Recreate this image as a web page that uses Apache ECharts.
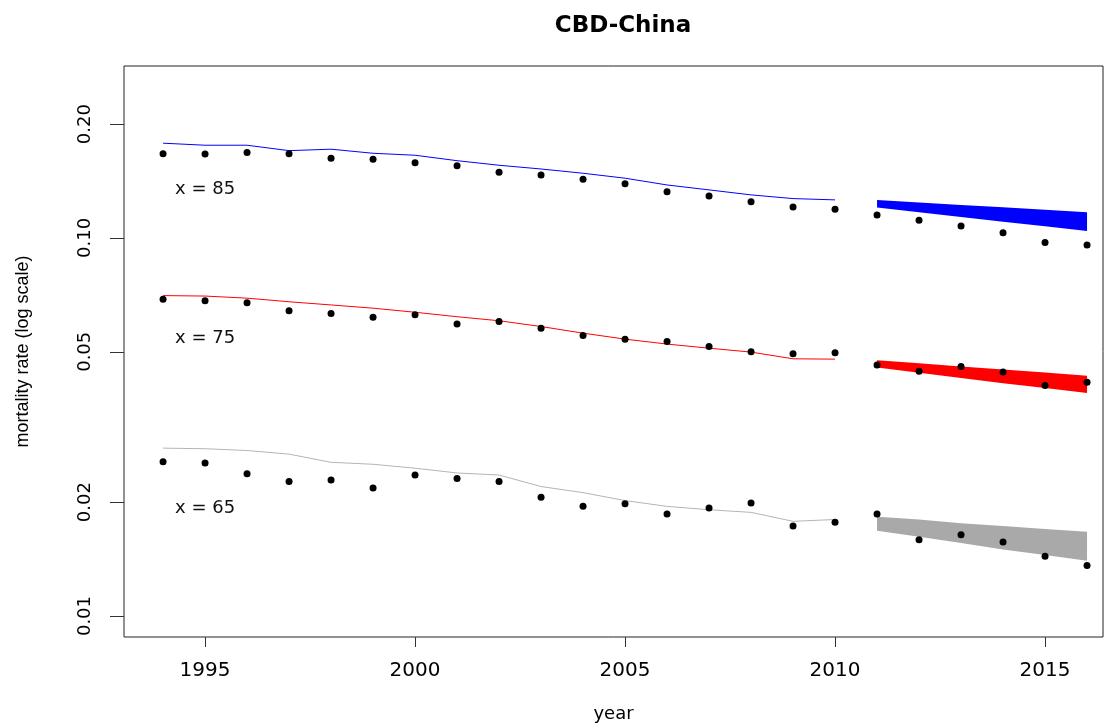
<!DOCTYPE html>
<html lang="en">
<head>
    <meta charset="UTF-8">
    <title>CBD-China</title>
    <style>
        html, body { margin: 0; padding: 0; background: #fff; }
    </style>
</head>
<body>
<div id="container" style="width: 1114px; height: 723px"></div>
<script type="text/javascript" src="https://cdn.jsdelivr.net/npm/echarts@6/dist/echarts.min.js"></script>
<script type="text/javascript">
    // years
    var obsYears = [1994, 1995, 1996, 1997, 1998, 1999, 2000, 2001, 2002, 2003, 2004, 2005,
        2006, 2007, 2008, 2009, 2010, 2011, 2012, 2013, 2014, 2015, 2016];
    var fitYears = [1994, 1995, 1996, 1997, 1998, 1999, 2000, 2001, 2002, 2003, 2004, 2005,
        2006, 2007, 2008, 2009, 2010];
    var fcYears = [2011, 2012, 2013, 2014, 2015, 2016];

    // observed rates (dots)
    var obs85 = [0.1671, 0.1668, 0.1682, 0.1671, 0.1625, 0.1615, 0.1582, 0.1553, 0.1491, 0.1468, 0.1430, 0.1392,
        0.1326, 0.1292, 0.1247, 0.1208, 0.1191, 0.1150, 0.1114, 0.1076, 0.1033, 0.0972, 0.0958];
    var obs75 = [0.0688, 0.0682, 0.0674, 0.0642, 0.0631, 0.0617, 0.0626, 0.0592, 0.0601, 0.0577, 0.0552, 0.0540,
        0.0532, 0.0516, 0.0500, 0.0494, 0.0497, 0.0461, 0.0444, 0.0457, 0.0442, 0.0407, 0.0415];
    var obs65 = [0.0256, 0.0254, 0.0238, 0.0227, 0.0229, 0.0218, 0.0236, 0.0231, 0.0227, 0.0206, 0.0195, 0.0198,
        0.0186, 0.0193, 0.0199, 0.0173, 0.0177, 0.0186, 0.0159, 0.0164, 0.0157, 0.0144, 0.0136];

    // fitted rates (lines)
    var fit85 = [0.1781, 0.1759, 0.1759, 0.1702, 0.1717, 0.1675, 0.1655, 0.1601, 0.1557, 0.1522, 0.1483, 0.1439,
        0.1381, 0.1340, 0.1300, 0.1271, 0.1261];
    var fit75 = [0.0704, 0.0702, 0.0693, 0.0678, 0.0665, 0.0652, 0.0636, 0.0619, 0.0604, 0.0583, 0.0560, 0.0540,
        0.0524, 0.0511, 0.0499, 0.0479, 0.0478];
    var fit65 = [0.0278, 0.0277, 0.0274, 0.0268, 0.0255, 0.0252, 0.0246, 0.0239, 0.0236, 0.0220, 0.0212, 0.0202,
        0.0195, 0.0191, 0.0188, 0.0178, 0.0180];

    // forecast intervals (bands)
    var hi85 = [0.1261, 0.1241, 0.1223, 0.1205, 0.1187, 0.1169];
    var lo85 = [0.1203, 0.1169, 0.1137, 0.1104, 0.1074, 0.1043];
    var hi75 = [0.0475, 0.0466, 0.0457, 0.0449, 0.0441, 0.0432];
    var lo75 = [0.0454, 0.0440, 0.0426, 0.0413, 0.0401, 0.0389];
    var hi65 = [0.0183, 0.0180, 0.0176, 0.0173, 0.0170, 0.0167];
    var lo65 = [0.0168, 0.0162, 0.0156, 0.0150, 0.0145, 0.0140];

    // age labels
    var ageLabels = ['x = 85', 'x = 75', 'x = 65'];
    var ageLabelYear = 1995;
    var ageLabelRate = [0.1344, 0.0544, 0.0193];

    // ticks
    var xTicks = [1995, 2000, 2005, 2010, 2015];
    var yTickVals = [0.01, 0.02, 0.05, 0.10, 0.20];
    var yTickLabels = ['0.01', '0.02', '0.05', '0.10', '0.20'];

    var lg = function (v) { return Math.log10(v); };
    var pairs = function (xs, ys) {
        return xs.map(function (x, i) { return [x, lg(ys[i])]; });
    };

    function bandSeries(lo, hi, color) {
        return {
            type: 'custom',
            z: 1,
            silent: true,
            data: fcYears.map(function (y, i) { return [y, lg(lo[i]), lg(hi[i])]; }),
            renderItem: function (params, api) {
                if (params.dataIndex !== 0) return;
                var pts = [];
                for (var i = 0; i < fcYears.length; i++) {
                    pts.push(api.coord([fcYears[i], lg(hi[i])]));
                }
                for (var j = fcYears.length - 1; j >= 0; j--) {
                    pts.push(api.coord([fcYears[j], lg(lo[j])]));
                }
                return {
                    type: 'polygon',
                    shape: {points: pts},
                    style: {fill: color, stroke: null}
                };
            }
        };
    }

    function lineSeries(vals, color) {
        return {
            type: 'line',
            z: 2,
            data: pairs(fitYears, vals),
            showSymbol: false,
            silent: true,
            lineStyle: {color: color, width: 1}
        };
    }

    function dotSeries(vals) {
        return {
            type: 'scatter',
            z: 3,
            data: pairs(obsYears, vals),
            symbolSize: 7,
            itemStyle: {color: '#000', opacity: 1},
            silent: true
        };
    }

    var yTickLogs = yTickVals.map(lg);

    option = {
        animation: false,
        title: {
            text: 'CBD-China',
            left: 618,
            top: 10,
            textAlign: 'center',
            textStyle: {fontFamily: 'DejaVu Sans', fontWeight: 'bold', fontSize: 23, color: '#000'}
        },
        grid: {
            left: 124, top: 66, right: 11, bottom: 86,
            outerBoundsMode: 'none',
            containLabel: false,
            show: true, borderColor: '#222', borderWidth: 1, backgroundColor: 'transparent'
        },
        xAxis: {
            type: 'value',
            min: 1993.07,
            max: 2016.38,
            name: 'year',
            nameLocation: 'middle',
            nameGap: 68,
            nameTextStyle: {fontFamily: 'DejaVu Sans', fontSize: 18, color: '#000'},
            axisLine: {show: false},
            splitLine: {show: false},
            axisTick: {show: true, length: 10, customValues: xTicks, lineStyle: {color: '#333'}},
            axisLabel: {
                customValues: xTicks, margin: 24,
                fontFamily: 'DejaVu Sans', fontSize: 20, color: '#000',
                formatter: function (v) { return String(Math.round(v)); }
            }
        },
        yAxis: {
            type: 'value',
            min: Math.log10(0.0088),
            max: Math.log10(0.285),
            name: 'mortality rate (log scale)',
            nameLocation: 'middle',
            nameRotate: 90,
            nameGap: 92,
            nameTextStyle: {fontFamily: 'Liberation Sans', fontSize: 18, color: '#000'},
            axisLine: {show: false},
            splitLine: {show: false},
            axisTick: {show: true, length: 14, customValues: yTickLogs, lineStyle: {color: '#333'}},
            axisLabel: {
                customValues: yTickLogs,
                rotate: 90,
                margin: 30,
                fontFamily: 'DejaVu Sans', fontSize: 18, color: '#000',
                formatter: function (v) {
                    var best = 0;
                    for (var i = 0; i < yTickLogs.length; i++) {
                        if (Math.abs(yTickLogs[i] - v) < Math.abs(yTickLogs[best] - v)) best = i;
                    }
                    return yTickLabels[best];
                }
            }
        },
        series: [
            bandSeries(lo85, hi85, '#0000ff'),
            bandSeries(lo75, hi75, '#ff0000'),
            bandSeries(lo65, hi65, '#a9a9a9'),
            lineSeries(fit85, '#0000ff'),
            lineSeries(fit75, '#ff0000'),
            lineSeries(fit65, '#b4b4b4'),
            dotSeries(obs85),
            dotSeries(obs75),
            dotSeries(obs65),
            {
                type: 'scatter',
                z: 4,
                silent: true,
                symbolSize: 0,
                itemStyle: {opacity: 1},
                data: ageLabelRate.map(function (r, i) {
                    return {value: [ageLabelYear, lg(r)], name: ageLabels[i]};
                }),
                label: {
                    show: true,
                    position: 'inside',
                    formatter: '{b}',
                    fontFamily: 'DejaVu Sans',
                    fontSize: 18,
                    color: '#111',
                    opacity: 1
                }
            }
        ]
    };

    var myChart = echarts.init(document.getElementById('container'));
    myChart.setOption(option);
</script>
</body>
</html>
